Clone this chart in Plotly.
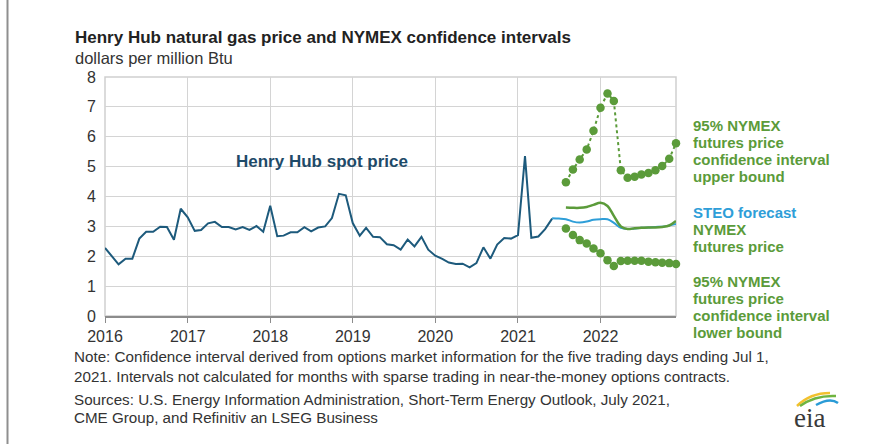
import plotly.graph_objects as go
import pandas as pd

# ---------------- data ----------------
spot_start = "2016-01-01"
spot_values = [
    2.28, 1.99, 1.73, 1.92, 1.92, 2.59, 2.82, 2.82, 2.99, 2.98, 2.55, 3.59,
    3.30, 2.85, 2.88, 3.10, 3.15, 2.98, 2.98, 2.90, 2.98, 2.88, 3.01, 2.82,
    3.69, 2.67, 2.69, 2.80, 2.80, 2.97, 2.83, 2.96, 3.00, 3.28, 4.09, 4.04,
    3.11, 2.69, 2.95, 2.65, 2.64, 2.40, 2.37, 2.22, 2.56, 2.33, 2.65, 2.22,
    2.02, 1.91, 1.79, 1.74, 1.75, 1.63, 1.77, 2.30, 1.92, 2.39, 2.61, 2.59,
    2.71, 5.35, 2.62, 2.66, 2.91, 3.26,
]
steo_start = "2021-06-01"
steo_values = [3.27, 3.26, 3.24, 3.16, 3.13, 3.16, 3.22, 3.24, 3.24, 3.12,
               2.95, 2.91, 2.93, 2.95, 2.96, 2.98, 2.99, 3.03, 3.08]
nymex_start = "2021-08-01"
nymex_values = [3.63, 3.62, 3.62, 3.65, 3.72, 3.79, 3.68, 3.35, 3.00, 2.91,
                2.94, 2.95, 2.96, 2.96, 2.98, 3.03, 3.18]
upper_values = [4.48, 4.90, 5.24, 5.57, 6.20, 6.97, 7.45, 7.20, 4.88, 4.63,
                4.66, 4.74, 4.79, 4.88, 5.02, 5.26, 5.78]
lower_values = [2.93, 2.71, 2.54, 2.43, 2.26, 2.10, 1.87, 1.67, 1.84, 1.85,
                1.85, 1.85, 1.82, 1.80, 1.78, 1.77, 1.74]
year_ticks = ["2016", "2017", "2018", "2019", "2020", "2021", "2022"]

spot_dates = pd.date_range(spot_start, periods=len(spot_values), freq="MS")
steo_dates = pd.date_range(steo_start, periods=len(steo_values), freq="MS")
nymex_dates = pd.date_range(nymex_start, periods=len(nymex_values), freq="MS")

# ---------------- styling ----------------
W, H = 888, 444
L, R, T, B = 105, 676, 77, 316
DARK = "#1d5a7c"
BLUE = "#2e9ed8"
GREEN = "#5b9b3a"
TXT = "#333333"
FONT = "Liberation Sans, Arial, sans-serif"


def px(x):
    return (x - L) / (R - L)


def py(y):
    return (B - y) / (B - T)


fig = go.Figure()
fig.add_trace(go.Scatter(x=spot_dates, y=spot_values, mode="lines",
                         line=dict(color=DARK, width=2), hoverinfo="skip"))
fig.add_trace(go.Scatter(x=steo_dates, y=steo_values, mode="lines",
                         line=dict(color=BLUE, width=2, shape="spline"),
                         hoverinfo="skip", cliponaxis=False))
fig.add_trace(go.Scatter(x=nymex_dates, y=nymex_values, mode="lines",
                         line=dict(color=GREEN, width=2.5, shape="spline"),
                         hoverinfo="skip", cliponaxis=False))
fig.add_trace(go.Scatter(x=nymex_dates, y=upper_values, mode="lines+markers",
                         line=dict(color=GREEN, width=2, dash="dot"),
                         marker=dict(color=GREEN, size=8.5), hoverinfo="skip",
                         cliponaxis=False))
fig.add_trace(go.Scatter(x=nymex_dates, y=lower_values, mode="lines+markers",
                         line=dict(color=GREEN, width=2, dash="dot"),
                         marker=dict(color=GREEN, size=8.5), hoverinfo="skip",
                         cliponaxis=False))

fig.update_layout(
    width=W, height=H,
    margin=dict(l=L, r=W - R, t=T, b=H - B),
    paper_bgcolor="white", plot_bgcolor="white",
    showlegend=False,
    font=dict(family=FONT, color=TXT),
    xaxis=dict(
        range=["2016-01-01", "2022-12-01"],
        tickvals=[f"{y}-01-01" for y in year_ticks],
        ticktext=year_ticks,
        showgrid=True, gridcolor="#d4d4d4", gridwidth=1,
        showline=True, linecolor="#8c8c8c", linewidth=1.5, mirror=False,
        ticks="outside", ticklen=5, tickcolor="#8c8c8c",
        tickfont=dict(size=16, color=TXT),
        zeroline=False,
    ),
    yaxis=dict(
        range=[0, 8], dtick=1,
        showgrid=True, gridcolor="#d4d4d4", gridwidth=1,
        showline=False, zeroline=False,
        tickfont=dict(size=16, color=TXT),
        ticks="", ticklabelstandoff=8,
    ),
)

shapes = [
    dict(type="rect", xref="paper", yref="paper", x0=0, x1=1, y0=0, y1=1,
         line=dict(color="#cfcfcf", width=1.5), layer="below"),
    dict(type="line", xref="paper", yref="paper", x0=px(7.5), x1=px(7.5),
         y0=py(0), y1=py(H), line=dict(color="#8f8f8f", width=2)),
]


def arc_path(pts):
    s = "M {} {}".format(px(pts[0][0]), py(pts[0][1]))
    s += " Q {} {} {} {}".format(px(pts[1][0]), py(pts[1][1]),
                                px(pts[2][0]), py(pts[2][1]))
    return s


shapes += [
    dict(type="path", xref="paper", yref="paper",
         path=arc_path([(797, 406), (810, 393), (830, 393)]),
         line=dict(color="#f2c12e", width=2.5)),
    dict(type="path", xref="paper", yref="paper",
         path=arc_path([(800, 406), (815, 395), (836, 396)]),
         line=dict(color="#6fb43f", width=2.5)),
    dict(type="path", xref="paper", yref="paper",
         path=arc_path([(816, 405), (830, 397), (838, 403)]),
         line=dict(color="#2a9bd6", width=2.5)),
]
fig.update_layout(shapes=shapes)

ann = []


def text(x, y, s, size, color=TXT, bold=False, family=FONT, xanchor="left"):
    ann.append(dict(x=px(x), y=py(y), xref="paper", yref="paper", text=s,
                    showarrow=False, xanchor=xanchor, yanchor="middle",
                    align="left",
                    font=dict(size=size, color=color, family=family,
                              weight="bold" if bold else "normal")))


text(73, 38, "Henry Hub natural gas price and NYMEX confidence intervals", 17, "#222222", True)
text(73, 58, "dollars per million Btu", 16.5, TXT)
text(322, 161, "Henry Hub spot price", 17, "#1e4a68", True, xanchor="center")

for i, s in enumerate(["95% NYMEX", "futures price", "confidence interval", "upper bound"]):
    text(691, 125 + i * 17.3, s, 15, GREEN, True)
text(691, 212, "STEO forecast", 15, BLUE, True)
for i, s in enumerate(["NYMEX", "futures price"]):
    text(691, 229 + i * 17.3, s, 15, GREEN, True)
for i, s in enumerate(["95% NYMEX", "futures price", "confidence interval", "lower bound"]):
    text(691, 281 + i * 17.3, s, 15, GREEN, True)

notes = [
    (356, "Note: Confidence interval derived from options market information for the five trading days ending Jul 1,"),
    (376, "2021. Intervals not calculated for months with sparse trading in near-the-money options contracts."),
    (399, "Sources: U.S. Energy Information Administration, Short-Term Energy Outlook, July 2021,"),
    (417, "CME Group, and Refinitiv an LSEG Business"),
]
for y, s in notes:
    text(72, y, s, 15.2, TXT)

text(809, 418, "eia", 27, "#3a3a3a", family="Liberation Serif, DejaVu Serif, serif", xanchor="center")

fig.update_layout(annotations=ann)
fig.write_html("out.html", config={"displayModeBar": False},
               post_script="document.body.style.margin='0';")
